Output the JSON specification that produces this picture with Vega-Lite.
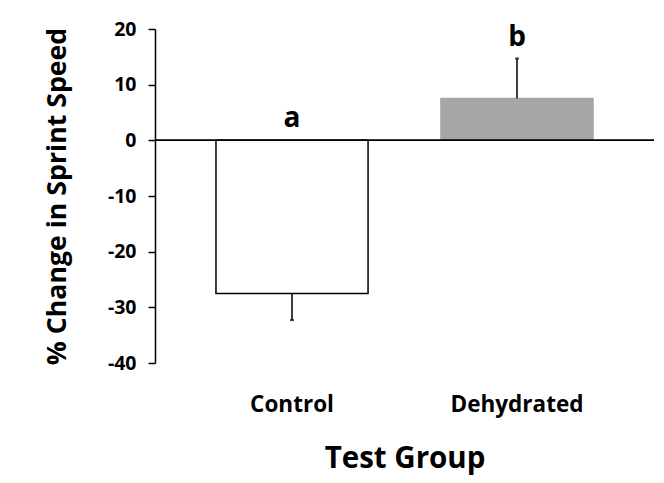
{
  "$schema": "https://vega.github.io/schema/vega-lite/v6.json",
  "width": 499,
  "height": 334,
  "autosize": {"type": "none"},
  "padding": {"left": 155, "top": 29, "right": 10, "bottom": 120},
  "background": "white",
  "config": {
    "view": {"stroke": null},
    "font": "Open Sans",
    "axis": {"labelFont": "Open Sans", "titleFont": "Open Sans", "labelColor": "black", "titleColor": "black", "domainColor": "black", "tickColor": "black", "grid": false}
  },
  "data": {
    "values": [
      {"group": "Control", "value": -27.5, "err": -32.3, "sig": "a"},
      {"group": "Dehydrated", "value": 7.5, "err": 14.7, "sig": "b"}
    ]
  },
  "encoding": {
    "x": {
      "field": "group",
      "type": "nominal",
      "sort": null,
      "scale": {"paddingInner": 0.324, "paddingOuter": 0.271},
      "axis": {
        "title": "Test Group",
        "titleFontSize": 29.5,
        "titleFontWeight": "bold",
        "titlePadding": 29,
        "labelFontSize": 22.5,
        "labelFontWeight": "bold",
        "labelAngle": 0,
        "labelPadding": 30,
        "domain": false,
        "ticks": false
      }
    }
  },
  "layer": [
    {
      "mark": {"type": "bar", "strokeWidth": 1.5},
      "encoding": {
        "y": {
          "field": "value",
          "type": "quantitative",
          "scale": {"domain": [-40, 20], "nice": false, "zero": false},
          "axis": {
            "title": "% Change in Sprint Speed",
            "titleFontSize": 26.7,
            "titleFontWeight": "bold",
            "titlePadding": 36,
            "labelFontSize": 19.5,
            "labelFontWeight": "bold",
            "labelPadding": 12,
            "labelExpr": "'' + datum.value",
            "values": [-40, -30, -20, -10, 0, 10, 20],
            "tickSize": 7,
            "domainWidth": 1.5,
            "tickWidth": 1.5
          }
        },
        "fill": {"field": "group", "type": "nominal", "scale": {"domain": ["Control", "Dehydrated"], "range": ["#ffffff", "#a6a6a6"]}, "legend": null},
        "stroke": {"field": "group", "type": "nominal", "scale": {"domain": ["Control", "Dehydrated"], "range": ["#000000", "#a6a6a6"]}, "legend": null}
      }
    },
    {
      "mark": {"type": "rule", "color": "black", "strokeWidth": 1.5},
      "encoding": {"y": {"datum": 0, "type": "quantitative"}, "x": null}
    },
    {
      "mark": {"type": "rule", "color": "black", "strokeWidth": 1.5},
      "encoding": {
        "y": {"field": "value", "type": "quantitative"},
        "y2": {"field": "err"}
      }
    },
    {
      "mark": {"type": "tick", "color": "black", "thickness": 2, "size": 4, "orient": "horizontal"},
      "encoding": {
        "y": {"field": "err", "type": "quantitative"}
      }
    },
    {
      "transform": [{"calculate": "max(datum.err, 0)", "as": "labelY"}],
      "mark": {"type": "text", "fontSize": 28, "fontWeight": "bold", "baseline": "alphabetic", "dy": -13, "color": "black"},
      "encoding": {
        "y": {"field": "labelY", "type": "quantitative"},
        "text": {"field": "sig"}
      }
    }
  ]
}
